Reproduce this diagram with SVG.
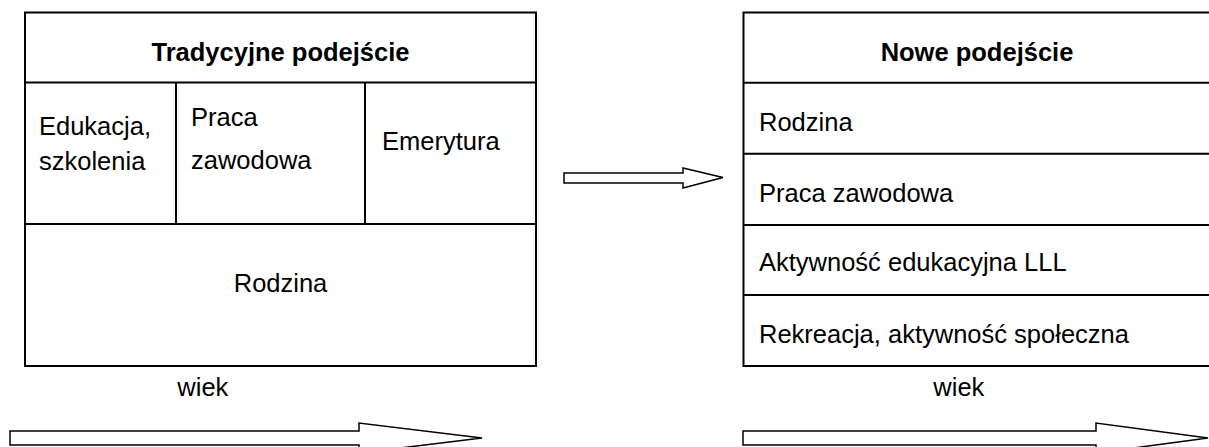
<svg xmlns="http://www.w3.org/2000/svg" width="1209" height="447" viewBox="0 0 1209 447">
  <style>
    .box { fill: #ffffff; stroke: #000000; stroke-width: 2; }
    .ln { stroke: #000000; stroke-width: 2; fill: none; }
    .t { font-family: "Liberation Sans", Arial, sans-serif; font-size: 25.5px; fill: #000000; }
    .b { font-weight: bold; }
    .m { text-anchor: middle; }
    .arrow { fill: #ffffff; stroke: #000000; stroke-width: 1.5; stroke-linejoin: miter; }
  </style>
  <rect width="1209" height="447" fill="#ffffff"/>

  <g id="traditional">
    <rect class="box" x="25" y="12.5" width="511" height="353.5"/>
    <line class="ln" x1="25" y1="82.5" x2="536" y2="82.5"/>
    <line class="ln" x1="25" y1="224" x2="536" y2="224"/>
    <line class="ln" x1="176" y1="82.5" x2="176" y2="224"/>
    <line class="ln" x1="365" y1="82.5" x2="365" y2="224"/>
    <g id="trad-title"><text class="t b m" x="280.5" y="60.5">Tradycyjne podejście</text></g>
    <g id="trad-edu"><text class="t" x="39" y="135">Edukacja,</text><text class="t" x="39" y="169.5">szkolenia</text></g>
    <g id="trad-work"><text class="t" x="191" y="126">Praca</text><text class="t" x="191" y="168.5">zawodowa</text></g>
    <g id="trad-retire"><text class="t" x="382" y="150">Emerytura</text></g>
    <g id="trad-family"><text class="t m" x="280.5" y="291.5">Rodzina</text></g>
  </g>

  <g id="new">
    <rect class="box" x="743.5" y="12.5" width="468" height="353.5"/>
    <line class="ln" x1="743.5" y1="82.7" x2="1211" y2="82.7"/>
    <line class="ln" x1="743.5" y1="153.7" x2="1211" y2="153.7"/>
    <line class="ln" x1="743.5" y1="225" x2="1211" y2="225"/>
    <line class="ln" x1="743.5" y1="295" x2="1211" y2="295"/>
    <g id="new-title"><text class="t b m" x="977" y="61">Nowe podejście</text></g>
    <g id="new-family"><text class="t" x="759" y="131">Rodzina</text></g>
    <g id="new-work"><text class="t" x="759" y="201.5">Praca zawodowa</text></g>
    <g id="new-lll"><text class="t" x="759" y="271">Aktywność edukacyjna LLL</text></g>
    <g id="new-rec"><text class="t" x="759" y="342.5">Rekreacja, aktywność społeczna</text></g>
  </g>

  <g id="age-left"><text class="t" x="177.3" y="396">wiek</text></g>
  <g id="age-right"><text class="t" x="933.3" y="396">wiek</text></g>

  <g id="connectors">
    <polygon class="arrow" points="564,173 683,173 683,168 723,177.5 683,188 683,183 564,183"/>
    <polygon class="arrow" points="10,431 359,431 359,423 482,438 359,453 359,445 10,445"/>
    <polygon class="arrow" points="743,431 1096,431 1096,423 1208,438 1096,453 1096,445 743,445"/>
  </g>
</svg>
